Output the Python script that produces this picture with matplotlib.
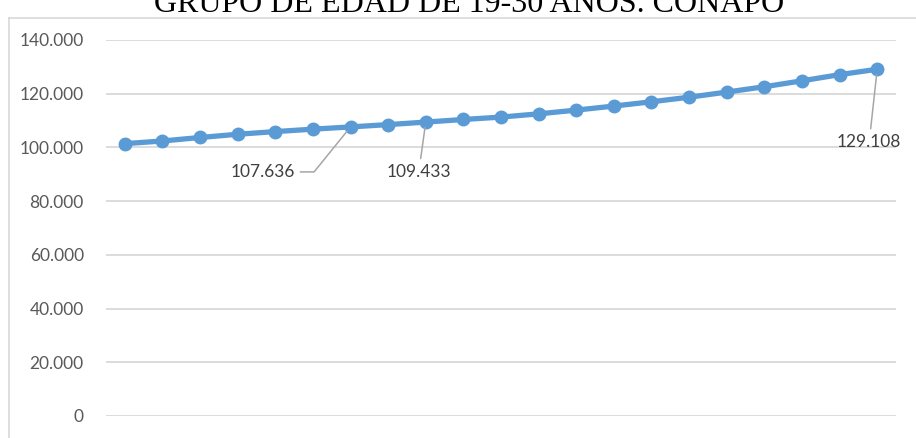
import matplotlib
matplotlib.use("Agg")
import matplotlib.pyplot as plt
from matplotlib.lines import Line2D
from matplotlib.ticker import FuncFormatter

# Población del grupo de edad de 19-30 años (proyecciones CONAPO)
years = list(range(2010, 2031))
population = [101400, 102400, 103700, 104900, 105900, 106800, 107636,
              108500, 109433, 110400, 111300, 112500, 113900, 115400,
              117000, 118700, 120600, 122600, 124800, 127100, 129108]
yticks = [0, 20000, 40000, 60000, 80000, 100000, 120000, 140000]

# índice del punto, desplazamiento del texto (px) y estilo del conector
labels = [
    (6, (-88, -45), "angle,angleA=0,angleB=51"),
    (8, (-7, -50), "arc3,rad=0"),
    (20, (-8, -73), "arc3,rad=0"),
]

title = "GRUPO DE EDAD DE 19-30 AÑOS. CONAPO"

line_color = "#5B9BD5"
text_color = "#595959"
grid_color = "#D9D9D9"

plt.rcParams["font.family"] = ["Lato", "DejaVu Sans"]

fig = plt.figure(figsize=(9.16, 4.38), dpi=100)
W, H = 916, 438
ax = fig.add_axes([106 / W, 1 - 416 / H, (896 - 106) / W, (416 - 40) / H])

x = list(range(len(years)))
ax.plot(x, population, color=line_color, lw=3.8, marker="o", ms=9,
        solid_capstyle="round", zorder=3, clip_on=False)

ax.set_xlim(-0.5, len(years) - 0.5)
ax.set_ylim(0, 140000)
ax.set_yticks(yticks)
ax.yaxis.set_major_formatter(
    FuncFormatter(lambda v, p: "0" if v == 0 else f"{v:,.0f}".replace(",", ".")))
ax.set_xticks([])
ax.grid(axis="y", color=grid_color, lw=1.3)
ax.set_axisbelow(True)
for s in ax.spines.values():
    s.set_visible(False)
ax.tick_params(axis="y", length=0, pad=16, labelsize=12.5, labelcolor=text_color)

fmt = lambda v: f"{v:,.0f}".replace(",", ".")
for i, off, cs in labels:
    ax.annotate(fmt(population[i]), xy=(i, population[i]), xytext=off,
                textcoords="offset pixels", ha="center", va="center",
                fontsize=12.5, color="#404040",
                arrowprops=dict(arrowstyle="-", color="#A6A6A6", lw=1.1,
                                connectionstyle=cs, shrinkA=2, shrinkB=4))

# marco del gráfico (bordes izquierdo y superior visibles)
fig.add_artist(Line2D([9 / W, 9 / W], [0, 1 - 18 / H], transform=fig.transFigure,
                      color=grid_color, lw=1.2))
fig.add_artist(Line2D([9 / W, 1], [1 - 18 / H, 1 - 18 / H], transform=fig.transFigure,
                      color=grid_color, lw=1.2))

fig.text(469 / W, 1 - 12 / H, title, ha="center", va="baseline",
         fontsize=23, color="black", family=["Liberation Serif"])

fig.savefig("out.png", dpi=100)
